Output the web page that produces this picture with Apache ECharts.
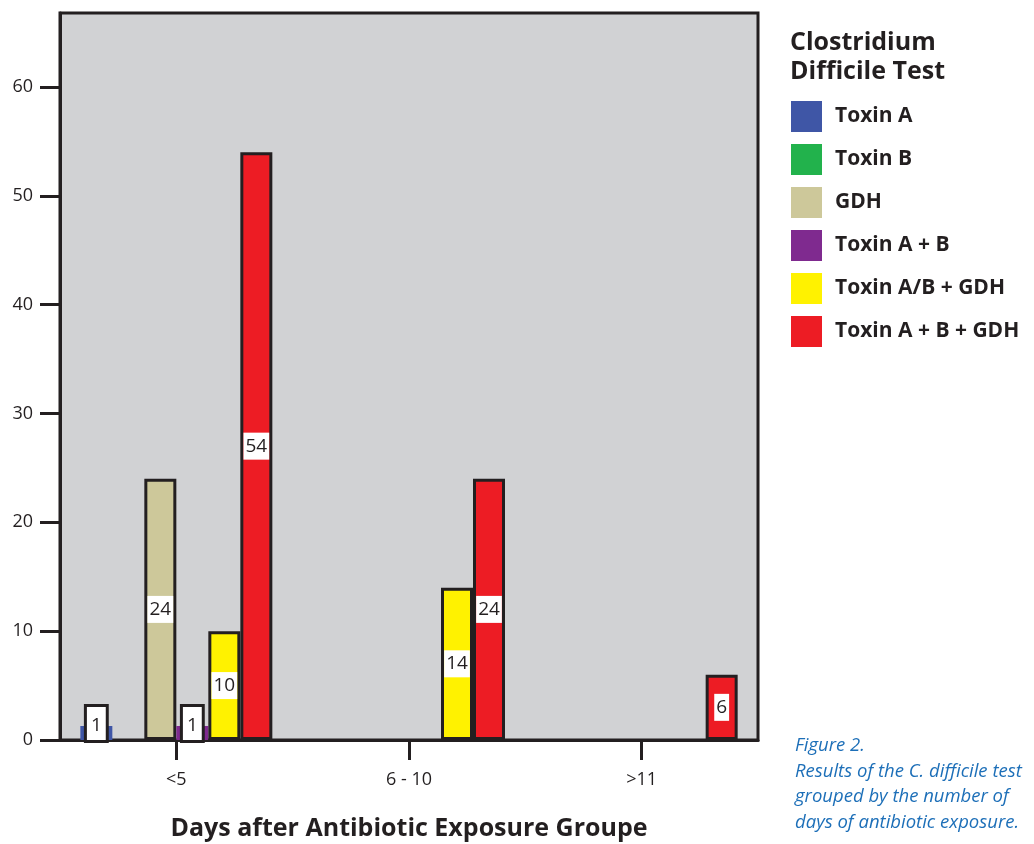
<!DOCTYPE html>
<html>
<head>
<meta charset="utf-8">
<script src="https://cdn.jsdelivr.net/npm/echarts@6/dist/echarts.min.js"></script>
<style>
html,body{margin:0;padding:0;background:#fff;}
#chart{width:1034px;height:844px;}
</style>
</head>
<body>
<div id="chart"></div>
<script>
const categories = ['<5', '6 - 10', '>11'];
const seriesNames = ['Toxin A', 'Toxin B', 'GDH', 'Toxin A + B', 'Toxin A/B + GDH', 'Toxin A + B + GDH'];
const toxinA = [1, null, null];
const toxinB = [null, null, null];
const gdh = [24, null, null];
const toxinAB = [1, null, null];
const toxinABorGDH = [10, 14, null];
const toxinABGDH = [54, 24, 6];
const yTicks = [0, 10, 20, 30, 40, 50, 60];
const colors = ['#3f56a6', '#22b24c', '#cdc89a', '#7f2a8f', '#fff200', '#ed1c24'];

const INK = '#231f20';
const FONT = '"Open Sans", "Noto Sans", sans-serif';

const valueSets = [toxinA, toxinB, gdh, toxinAB, toxinABorGDH, toxinABGDH];
const smallBox = [true, false, false, true, false, false];

const series = valueSets.map((vals, i) => ({
  name: seriesNames[i],
  type: 'bar',
  data: vals,
  barWidth: 32,
  barGap: '0%',
  barMinHeight: smallBox[i] ? 14 : 0,
  itemStyle: {
    color: colors[i],
    borderColor: INK,
    borderWidth: smallBox[i] ? 0 : 3
  },
  label: smallBox[i] ? {
    show: true,
    position: 'insideBottom',
    distance: 0,
    color: INK,
    fontFamily: FONT,
    fontSize: 19,
    lineHeight: 22,
    backgroundColor: '#ffffff',
    borderColor: INK,
    borderWidth: 3,
    padding: [8, 4, 3, 4]
  } : {
    show: true,
    position: 'inside',
    color: INK,
    fontFamily: FONT,
    fontSize: 19,
    lineHeight: 22,
    backgroundColor: '#ffffff',
    padding: [3, 2, 2, 2]
  }
}));

const chart = echarts.init(document.getElementById('chart'), null, {renderer: 'canvas'});
chart.setOption({
  animation: false,
  backgroundColor: '#ffffff',
  title: {
    text: 'Clostridium\nDifficile Test',
    left: 790,
    top: 28,
    padding: 0,
    textStyle: {
      fontFamily: FONT,
      fontSize: 25,
      fontWeight: 'bold',
      color: INK,
      lineHeight: 29
    }
  },
  legend: {
    orient: 'vertical',
    left: 791,
    top: 101,
    padding: 0,
    itemWidth: 31,
    itemHeight: 31,
    itemGap: 12,
    icon: 'rect',
    selectedMode: false,
    itemStyle: {borderWidth: 0},
    textStyle: {
      fontFamily: FONT,
      fontSize: 21,
      fontWeight: 'bold',
      color: INK,
      padding: [0, 0, 0, 8]
    },
    data: seriesNames
  },
  grid: {
    left: 60,
    right: 276,
    top: 13,
    bottom: 104,
    outerBoundsMode: 'none',
    containLabel: false,
    show: true,
    backgroundColor: '#d1d2d4',
    borderColor: INK,
    borderWidth: 3
  },
  xAxis: {
    type: 'category',
    data: categories,
    boundaryGap: true,
    name: 'Days after Antibiotic Exposure Groupe',
    nameLocation: 'middle',
    nameGap: 76,
    nameTextStyle: {
      fontFamily: FONT,
      fontSize: 25,
      fontWeight: 'bold',
      color: INK
    },
    axisLine: {show: true, lineStyle: {color: INK, width: 3}},
    axisTick: {show: true, alignWithLabel: true, length: 20, lineStyle: {color: INK, width: 3}},
    axisLabel: {
      margin: 31,
      fontFamily: FONT,
      fontSize: 18,
      color: INK
    },
    splitLine: {show: false}
  },
  yAxis: {
    type: 'value',
    min: 0,
    max: 66.8,
    interval: 10,
    axisLine: {show: true, lineStyle: {color: INK, width: 3}},
    axisTick: {show: true, length: 20, customValues: yTicks, lineStyle: {color: INK, width: 3}},
    axisLabel: {
      customValues: yTicks,
      margin: 27,
      fontFamily: FONT,
      fontSize: 18,
      color: INK
    },
    splitLine: {show: false}
  },
  graphic: [{
    type: 'text',
    left: 795,
    top: 733,
    style: {
      text: 'Figure 2.\nResults of the C. difficile test\ngrouped by the number of\ndays of antibiotic exposure.',
      fontFamily: FONT,
      fontSize: 18.5,
      fontStyle: 'italic',
      lineHeight: 25.5,
      fill: '#1d6fb8'
    }
  }],
  series: series
});
</script>
</body>
</html>
